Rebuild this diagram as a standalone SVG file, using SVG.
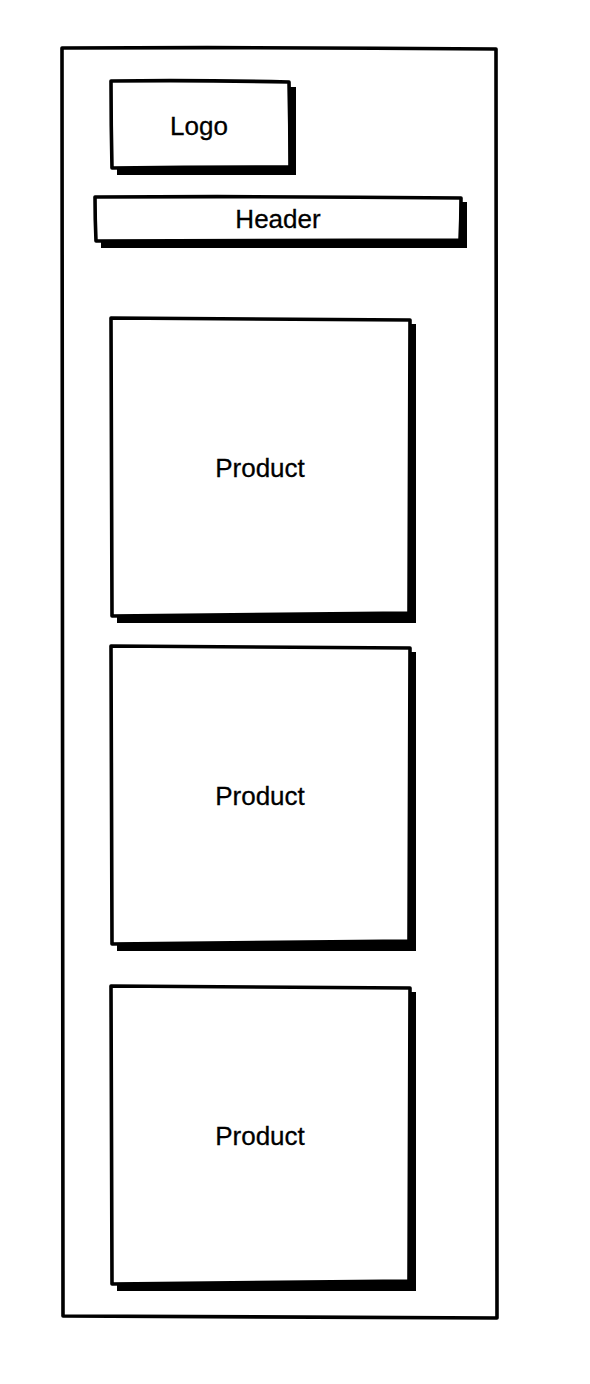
<svg xmlns="http://www.w3.org/2000/svg" width="590" height="1384" viewBox="0 0 590 1384">
<style>
.box{fill:#fff;stroke:#000;stroke-width:3.6;stroke-linejoin:round}
.shadow{fill:#000}
.t{font-family:"Liberation Sans",Arial,sans-serif;font-size:26px;fill:#000;stroke:#000;stroke-width:0.3;text-anchor:middle;dominant-baseline:central}
</style>
<rect width="590" height="1384" fill="#fff"/>
<g id="page">
<path class="box" d="M62 48 Q280 47 496 49 Q497 680 497 1318 Q280 1317 63 1316 Q62 680 62 48 Z"/>
</g>
<g id="logo">
<path class="shadow" d="M117 87 L296 87 L296 175 L117 175 Z"/>
<path class="box" d="M111 81 Q200 80 289 82 Q290 125 290 167 Q200 167 112 168 Q111 125 111 81 Z"/>
<text class="t" x="199" y="126">Logo</text>
</g>
<g id="header">
<path class="shadow" d="M101 202 L467 202 L467 248 L101 248 Z"/>
<path class="box" d="M95 197 Q278 196 461 198 Q461 219 460 240 Q278 241 96 241 Q95 219 95 197 Z"/>
<text class="t" x="278" y="219">Header</text>
</g>
<g id="product1">
<path class="shadow" d="M117 324 L416 324 L416 623 L117 623 Z"/>
<path class="box" d="M111 318 Q260 319 410 320 Q409 466 409 613 Q260 614 112 616 Q111 466 111 318 Z"/>
<text class="t" x="260" y="468">Product</text>
</g>
<g id="product2">
<path class="shadow" d="M117 652 L416 652 L416 951 L117 951 Z"/>
<path class="box" d="M111 646 Q260 647 410 648 Q409 794 409 941 Q260 942 112 944 Q111 794 111 646 Z"/>
<text class="t" x="260" y="796">Product</text>
</g>
<g id="product3">
<path class="shadow" d="M117 992 L416 992 L416 1291 L117 1291 Z"/>
<path class="box" d="M111 986 Q260 987 410 988 Q409 1134 409 1281 Q260 1282 112 1284 Q111 1134 111 986 Z"/>
<text class="t" x="260" y="1136">Product</text>
</g>
<g id="connectors"/>
</svg>
